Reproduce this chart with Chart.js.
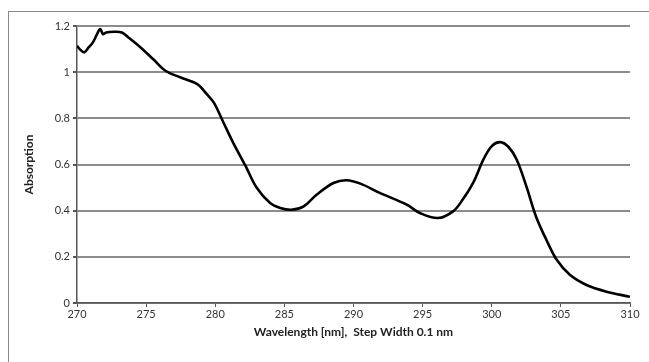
<!DOCTYPE html>
<html>
<head>
<meta charset="utf-8">
<script src="https://cdn.jsdelivr.net/npm/chart.js@4/dist/chart.umd.min.js"></script>
<style>
  html, body { margin: 0; padding: 0; background: #fff; overflow: hidden; }
  #wrap { position: relative; width: 649px; height: 362px; }
  #frame {
    position: absolute; left: 8px; top: 11px; width: 700px; height: 400px;
    border: 1.5px solid #8a8a8a; box-sizing: border-box;
  }
  canvas { position: absolute; left: 0; top: 0; }
</style>
</head>
<body>
<div id="wrap">
  <div id="frame"></div>
  <canvas id="chart" width="649" height="362"></canvas>
</div>
<script>
// wavelength in nm
const wavelengths = [
  270, 270.24, 270.53, 270.84, 271.15, 271.45, 271.68, 271.88, 272.1, 272.65,
  273.25, 273.7, 274.6, 275.5, 276.4, 277.5, 278.7, 279.4, 279.9, 280.6,
  281.3, 282.2, 283.0, 283.97, 284.7, 285.5, 286.4, 287.35, 288.55, 289.5,
  290.5, 291.9, 293.85, 294.8, 296.1, 297.2, 297.9, 298.65, 299.4, 300.0,
  300.6, 301.2, 301.8, 302.5, 303.2, 303.95, 304.7, 305.65, 306.85, 308.3,
  310
];
const absorption = [
  1.114, 1.097, 1.086, 1.107, 1.129, 1.165, 1.187, 1.165, 1.172, 1.175,
  1.172, 1.151, 1.107, 1.057, 1.006, 0.977, 0.948, 0.904, 0.868, 0.781,
  0.694, 0.593, 0.499, 0.433, 0.412, 0.404, 0.419, 0.470, 0.520, 0.532,
  0.517, 0.477, 0.426, 0.390, 0.368, 0.397, 0.448, 0.520, 0.622, 0.680,
  0.697, 0.677, 0.622, 0.506, 0.375, 0.274, 0.187, 0.122, 0.078, 0.049,
  0.027
];

const xTitle = "Wavelength [nm],  Step Width 0.1 nm";
const yTitle = "Absorption";

const points = wavelengths.map((w, i) => ({ x: w, y: absorption[i] }));

new Chart(document.getElementById("chart"), {
  type: "line",
  data: {
    datasets: [{
      data: points,
      borderColor: "#000",
      borderWidth: 2.6,
      pointRadius: 0,
      fill: false,
      tension: 0.35
    }]
  },
  options: {
    responsive: false,
    animation: false,
    layout: { padding: { left: 22, top: 26, right: 19, bottom: 23 } },
    plugins: { legend: { display: false }, tooltip: { enabled: false } },
    scales: {
      x: {
        type: "linear",
        min: 270,
        max: 310,
        afterFit: (s) => { s.height = 36; },
        ticks: {
          stepSize: 5,
          color: "#333",
          padding: 1,
          font: { family: "Lato", size: 11 }
        },
        grid: {
          drawOnChartArea: false,
          drawTicks: true,
          tickLength: 4,
          color: "#555"
        },
        border: { color: "#555", width: 1.5 },
        title: {
          display: true,
          text: xTitle,
          color: "#222",
          padding: 0,
          font: { family: "Lato", size: 12, weight: "bold" }
        }
      },
      y: {
        min: 0,
        max: 1.2,
        afterFit: (s) => { s.width = 55; },
        ticks: {
          stepSize: 0.2,
          color: "#333",
          padding: 3,
          font: { family: "Lato", size: 11 },
          callback: (v) => String(Math.round(v * 10) / 10)
        },
        grid: {
          color: "#8c8c8c",
          lineWidth: 2,
          tickColor: "#555",
          tickLength: 4
        },
        border: { color: "#555", width: 1.5 },
        title: {
          display: true,
          text: yTitle,
          color: "#222",
          padding: 0,
          font: { family: "Lato", size: 12, weight: "bold" }
        }
      }
    }
  }
});
</script>
</body>
</html>
